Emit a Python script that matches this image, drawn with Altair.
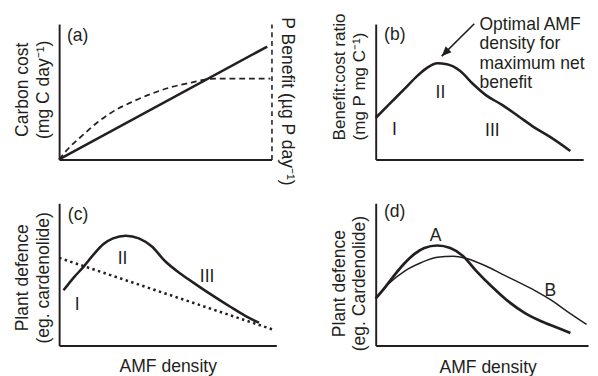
import altair as alt
import pandas as pd

FONT = "Liberation Sans"
INK = "#231f20"
FS = 18

# ---------------- data (arbitrary units, 0-100 on each axis) ----------------
# (a) carbon cost (solid) and P benefit (dashed)
a_cost_x = [0, 98]
a_cost_y = [0, 83.4]
a_benefit_x = [0, 4, 11.7, 17.8, 25.5, 34.6, 43.8, 53, 62.2, 69.8, 76, 99.5]
a_benefit_y = [0, 7.5, 18.7, 27.1, 35.5, 42.7, 48.7, 53.5, 56.8, 59.3, 59.7, 59.7]
a_lab_t = ["(a)"]
a_lab_x = [8.7]
a_lab_y = [91.4]

# (b) benefit:cost ratio
b_x = [0, 6.2, 14, 20.2, 24.9, 29.6, 34.3, 40.6, 46.8, 53.1, 60.9, 68.8, 76.6, 84.4, 93.8]
b_y = [30.7, 40.3, 52.3, 61.9, 67.8, 71, 70.3, 65.5, 55.9, 47.5, 40.3, 31.9, 23.5, 16.3, 6.3]
b_lab_t = ["(b)", "I", "II", "III"]
b_lab_x = [9.2, 9.0, 31.2, 56.2]
b_lab_y = [91.7, 21.6, 48.7, 20.6]
b_note_lines = ["Optimal AMF", "density for", "maximum net", "benefit"]
b_note_x = [50]
b_note_y = [105.7]
b_arrow_x = [47.5, 31.8]
b_arrow_y = [100.2, 76.3]

# (c) plant defence vs AMF density
c_x = [2, 6.8, 11.2, 15.8, 20.3, 24.8, 30.7, 36.7, 42.7, 48.7, 56.1, 63.6, 71.1, 78.6, 86.1, 92]
c_y = [38.8, 47.9, 55.3, 63.9, 71.2, 75.3, 77.2, 75.3, 69.6, 59.4, 50.2, 42.3, 34.7, 27.4, 20.5, 16]
c_dot_x = [0, 98]
c_dot_y = [61.6, 11.4]
c_lab_t = ["(c)", "I", "II", "III"]
c_lab_x = [8.7, 8.3, 29.2, 68.1]
c_lab_y = [91.8, 28.6, 60.5, 48.4]

# (d) two genotypes A and B
dA_x = [0, 4.5, 9.2, 13.8, 18.3, 22.9, 29, 35.1, 41.2, 47.3, 54.9, 62.6, 70.3, 77.9, 85.6, 91.7]
dA_y = [33.1, 41.1, 50.2, 58.2, 64.4, 68.5, 70.3, 68.5, 62.8, 52.5, 41.1, 30.8, 22.8, 17.1, 12.5, 8.7]
dB_x = [0, 6.1, 13.8, 21.3, 29, 36.6, 42.7, 51.9, 59.5, 67.2, 74.8, 82.5, 90.1, 99.3]
dB_y = [33.1, 43.4, 52.5, 58.2, 62.1, 62.8, 61.2, 55.9, 50.2, 44.5, 38.8, 32, 24, 14.8]
d_lab_t = ["(d)", "A", "B"]
d_lab_x = [8.9, 28.2, 82.2]
d_lab_y = [93.8, 76.7, 38.4]

# ---------------- helpers ----------------
DOM = alt.Scale(domain=[0, 100], nice=False, zero=False)
TITLE_STYLE = dict(titleFont=FONT, titleFontWeight="normal",
                   titleColor=INK, titleLineHeight=21.5)


def xax(title=None, **kw):
    return alt.Axis(title=title, ticks=False, labels=False, grid=False,
                    domainWidth=2, domainColor=INK, titleFontSize=FS, **TITLE_STYLE, **kw)


def yax(title, fs=FS, **kw):
    return alt.Axis(title=title, ticks=False, labels=False, grid=False,
                    domainWidth=2, domainColor=INK, titlePadding=7,
                    titleFontSize=fs, **TITLE_STYLE, **kw)


def enc(chart, xa, ya):
    return chart.encode(x=alt.X("x:Q", scale=DOM, axis=xa),
                        y=alt.Y("y:Q", scale=DOM, axis=ya))


def line(xs, ys, xa, ya, **mk):
    df = pd.DataFrame({"x": xs, "y": ys})
    return enc(alt.Chart(df).mark_line(color=INK, interpolate="monotone", **mk), xa, ya)


def labels(ts, xs, ys, xa, ya, **mk):
    df = pd.DataFrame({"x": xs, "y": ys, "t": ts})
    return enc(alt.Chart(df).mark_text(font=FONT, fontSize=FS, color=INK, **mk), xa, ya).encode(text="t:N")


# ---------------- panel (a) ----------------
xa_a = xax()
ya_a = yax(["Carbon cost", "(mg C day⁻¹)"], titleY=67)
ya_a_right = alt.Axis(orient="right", title="P Benefit (µg P day⁻¹)", titleAngle=90,
                      ticks=False, labels=False, grid=False, domainDash=[5, 4],
                      domainWidth=1.6, domainColor=INK, titlePadding=6, titleY=79,
                      titleFontSize=FS, **TITLE_STYLE)
pa_left = alt.layer(
    line(a_cost_x, a_cost_y, xa_a, ya_a, strokeWidth=2.6),
    labels(a_lab_t, a_lab_x, a_lab_y, xa_a, ya_a),
)
pa_right = line(a_benefit_x, a_benefit_y, xa_a, ya_a_right, strokeWidth=1.8, strokeDash=[6, 4])
pa = alt.layer(pa_left, pa_right).resolve_scale(y="independent").properties(width=218, height=139)

# ---------------- panel (b) ----------------
xa_b = xax()
ya_b = yax(["Benefit:cost ratio", "(mg P mg C⁻¹)"], fs=17.5, titleY=119, titleAlign="left")
note_df = pd.DataFrame({"x": b_note_x, "y": b_note_y, "t": ["\n".join(b_note_lines)]})
note = enc(alt.Chart(note_df).mark_text(font=FONT, fontSize=FS, color=INK, align="left",
                                         baseline="top", lineBreak="\n", lineHeight=20), xa_b, ya_b).encode(text="t:N")
arrow_df = pd.DataFrame({"x": b_arrow_x, "y": b_arrow_y})
arrow_line = enc(alt.Chart(arrow_df).mark_line(color=INK, strokeWidth=1.6), xa_b, ya_b)
arrow_head = enc(alt.Chart(arrow_df.iloc[[1]]).mark_point(
    shape="M0,0L-0.42,1L0.42,1Z", filled=True, size=400, angle=225, color=INK, opacity=1), xa_b, ya_b)
pb = alt.layer(
    line(b_x, b_y, xa_b, ya_b, strokeWidth=2.6),
    labels(b_lab_t, b_lab_x, b_lab_y, xa_b, ya_b),
    note, arrow_line, arrow_head,
).properties(width=213, height=139)

# ---------------- panel (c) ----------------
xa_c = xax("AMF density", titlePadding=13)
ya_c = yax(["Plant defence", "(eg. cardenolide)"], titleY=76)
pc = alt.layer(
    line(c_x, c_y, xa_c, ya_c, strokeWidth=2.6),
    line(c_dot_x, c_dot_y, xa_c, ya_c, strokeWidth=2.6, strokeDash=[2.5, 3.5]),
    labels(c_lab_t, c_lab_x, c_lab_y, xa_c, ya_c),
).properties(width=223, height=146)

# ---------------- panel (d) ----------------
xa_d = xax("AMF density", titlePadding=13.5, titleX=115)
ya_d = yax(["Plant defence", "(eg. Cardenolide)"], titleY=82)
pd_ = alt.layer(
    line(dA_x, dA_y, xa_d, ya_d, strokeWidth=2.8),
    line(dB_x, dB_y, xa_d, ya_d, strokeWidth=1.5),
    labels(d_lab_t, d_lab_x, d_lab_y, xa_d, ya_d),
).properties(width=218, height=146)

chart = alt.concat(
    pa, pb, pc, pd_, columns=2, spacing={"row": 45, "column": 102}, bounds="flush"
).properties(
    padding={"left": 5.5, "top": -0.5, "right": 0, "bottom": 0}, background="white"
).configure_view(stroke=None)

chart.save("out.html", embed_options={"renderer": "svg", "actions": False})
